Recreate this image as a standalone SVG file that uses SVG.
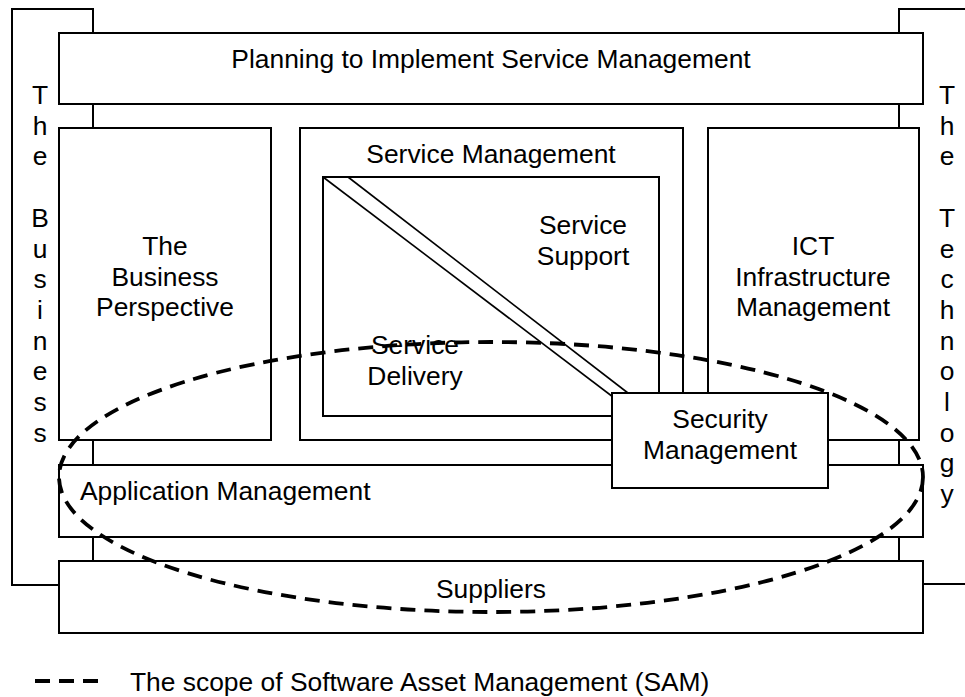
<svg xmlns="http://www.w3.org/2000/svg" width="965" height="697" viewBox="0 0 965 697">
<defs>
<style>
.box{fill:#fff;stroke:#000;stroke-width:2}
.thin{fill:none;stroke:#000;stroke-width:1.6}
.t{font-family:"Liberation Sans",Arial,sans-serif;font-size:26.4px;fill:#000}
.c{text-anchor:middle}
.dash{fill:none;stroke:#000;stroke-width:3.8;stroke-dasharray:15 9}
</style>
</defs>
<rect width="965" height="697" fill="#fff"/>
<g id="the-business">
<rect class="box" x="12" y="9" width="81" height="576"/>
<text class="t c" x="40" y="104"><tspan x="40">T</tspan><tspan x="40" dy="30.7">h</tspan><tspan x="40" dy="30.7">e</tspan><tspan x="40" dy="61.4">B</tspan><tspan x="40" dy="30.7">u</tspan><tspan x="40" dy="30.7">s</tspan><tspan x="40" dy="30.7">i</tspan><tspan x="40" dy="30.7">n</tspan><tspan x="40" dy="30.7">e</tspan><tspan x="40" dy="30.7">s</tspan><tspan x="40" dy="30.7">s</tspan></text>
</g>
<g id="the-technology">
<rect class="box" x="899" y="9" width="100" height="575"/>
<text class="t c" x="947" y="104"><tspan x="947">T</tspan><tspan x="947" dy="30.7">h</tspan><tspan x="947" dy="30.7">e</tspan><tspan x="947" dy="61.4">T</tspan><tspan x="947" dy="30.7">e</tspan><tspan x="947" dy="30.7">c</tspan><tspan x="947" dy="30.7">h</tspan><tspan x="947" dy="30.7">n</tspan><tspan x="947" dy="30.7">o</tspan><tspan x="947" dy="30.7">l</tspan><tspan x="947" dy="30.7">o</tspan><tspan x="947" dy="30.7">g</tspan><tspan x="947" dy="30.7">y</tspan></text>
</g>
<g id="planning">
<rect class="box" x="59" y="33" width="864" height="71"/>
<text class="t c" x="491" y="68">Planning to Implement Service Management</text>
</g>
<g id="business-perspective">
<rect class="box" x="59" y="128" width="212" height="312"/>
<text class="t c" x="165" y="255"><tspan x="165">The</tspan><tspan x="165" dy="30.7">Business</tspan><tspan x="165" dy="30.7">Perspective</tspan></text>
</g>
<g id="service-management">
<rect class="box" x="300" y="128" width="383" height="312"/>
<text class="t c" x="491" y="163">Service Management</text>
<rect class="box" x="323" y="177" width="336" height="239"/>
<line class="thin" x1="323" y1="177" x2="640" y2="417.5"/>
<line class="thin" x1="348" y1="177" x2="650" y2="410"/>
<text class="t c" x="583" y="234"><tspan x="583">Service</tspan><tspan x="583" dy="30.7">Support</tspan></text>
<text class="t c" x="415" y="354"><tspan x="415">Service</tspan><tspan x="415" dy="30.7">Delivery</tspan></text>
</g>
<g id="ict">
<rect class="box" x="708" y="128" width="211" height="312"/>
<text class="t c" x="813" y="255"><tspan x="813">ICT</tspan><tspan x="813" dy="30.7">Infrastructure</tspan><tspan x="813" dy="30.7">Management</tspan></text>
</g>
<g id="application-management">
<rect class="box" x="59" y="465" width="864" height="72"/>
<text class="t" x="80" y="500">Application Management</text>
</g>
<g id="suppliers">
<rect class="box" x="59" y="561" width="864" height="72"/>
<text class="t c" x="491" y="598">Suppliers</text>
</g>
<g id="security-management">
<rect class="box" x="612" y="393" width="216" height="95"/>
<text class="t c" x="720" y="428"><tspan x="720">Security</tspan><tspan x="720" dy="30.7">Management</tspan></text>
</g>
<g id="connectors">
<ellipse id="sam-scope" class="dash" cx="491" cy="477" rx="432" ry="135"/>
</g>
<g id="legend">
<line class="dash" x1="35" y1="681" x2="106" y2="681" stroke-dasharray="17 9"/>
<text class="t" x="130" y="691">The scope of Software Asset Management (SAM)</text>
</g>
</svg>
